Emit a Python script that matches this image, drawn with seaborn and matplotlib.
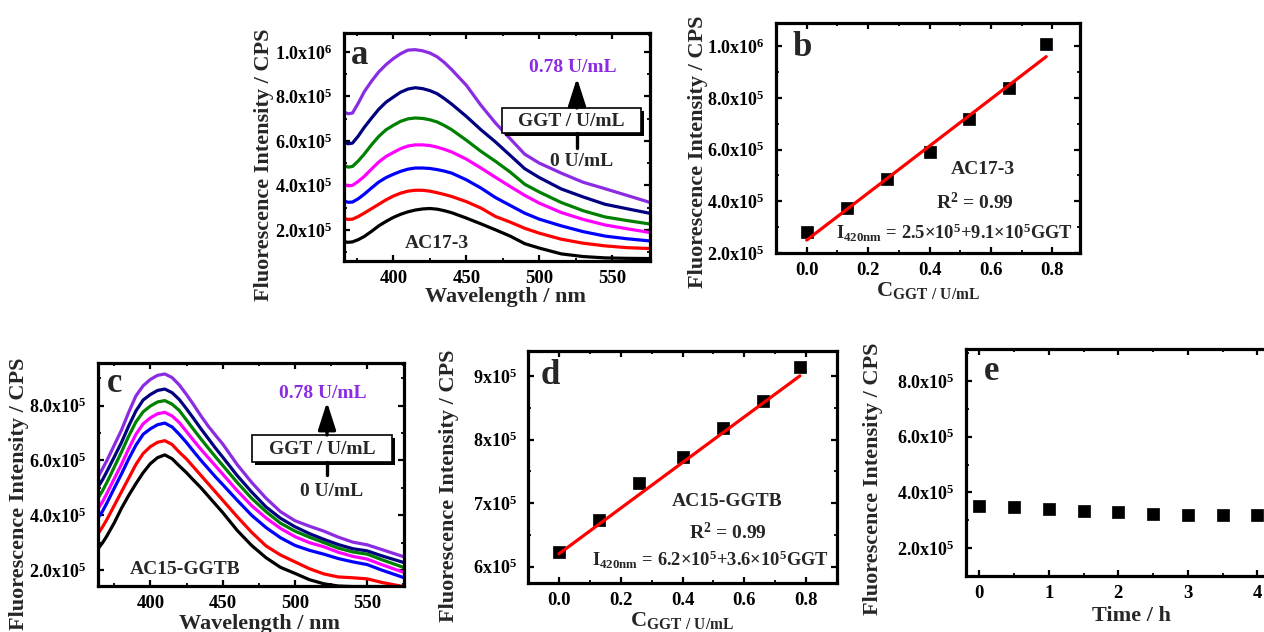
import numpy as np
import pandas as pd
import matplotlib
matplotlib.use("Agg")
import matplotlib.pyplot as plt
import seaborn as sns
from matplotlib.patches import Rectangle, FancyArrowPatch
from matplotlib.lines import Line2D
from matplotlib.ticker import MultipleLocator

# ---------------- data ----------------
conc_levels = [0, 0.13, 0.26, 0.40, 0.53, 0.66, 0.78]
curve_colors = ["#000000", "#FF0000", "#0000FF", "#FF00FF", "#008000", "#000080", "#8B2BE2"]

# (a) AC17-3 emission spectra
wl_a = [366, 369, 372, 376, 380, 385, 390, 395, 400, 405, 410, 415, 420, 425, 430, 435, 440,
        450, 460, 470, 480, 490, 500, 515, 530, 545, 560, 576]
a_000 = [1.47e5, 1.44e5, 1.46e5, 1.56e5, 1.70e5, 1.93e5, 2.18e5, 2.38e5, 2.56e5, 2.70e5, 2.81e5, 2.89e5, 2.94e5, 2.96e5, 2.93e5, 2.86e5, 2.77e5,
         2.53e5, 2.27e5, 2.00e5, 1.72e5, 1.38e5, 1.18e5, 0.92e5, 0.80e5, 0.74e5, 0.72e5, 0.71e5]
a_013 = [2.52e5, 2.47e5, 2.48e5, 2.60e5, 2.75e5, 2.95e5, 3.15e5, 3.35e5, 3.52e5, 3.65e5, 3.74e5, 3.78e5, 3.78e5, 3.74e5, 3.67e5, 3.59e5, 3.50e5,
         3.27e5, 2.98e5, 2.60e5, 2.35e5, 2.07e5, 1.85e5, 1.58e5, 1.40e5, 1.28e5, 1.20e5, 1.16e5]
a_026 = [3.30e5, 3.24e5, 3.25e5, 3.40e5, 3.60e5, 3.88e5, 4.15e5, 4.35e5, 4.50e5, 4.63e5, 4.73e5, 4.78e5, 4.78e5, 4.76e5, 4.71e5, 4.64e5, 4.55e5,
         4.25e5, 3.88e5, 3.45e5, 3.10e5, 2.75e5, 2.48e5, 2.18e5, 1.92e5, 1.72e5, 1.60e5, 1.50e5]
a_040 = [4.05e5, 3.98e5, 4.00e5, 4.18e5, 4.40e5, 4.73e5, 5.05e5, 5.30e5, 5.48e5, 5.65e5, 5.77e5, 5.82e5, 5.82e5, 5.79e5, 5.72e5, 5.62e5, 5.50e5,
         5.18e5, 4.78e5, 4.36e5, 3.95e5, 3.55e5, 3.20e5, 2.78e5, 2.47e5, 2.22e5, 2.05e5, 1.88e5]
a_053 = [4.90e5, 4.82e5, 4.85e5, 5.10e5, 5.40e5, 5.82e5, 6.20e5, 6.50e5, 6.70e5, 6.88e5, 6.99e5, 7.03e5, 7.01e5, 6.95e5, 6.85e5, 6.69e5, 6.50e5,
         6.03e5, 5.53e5, 5.08e5, 4.60e5, 4.05e5, 3.70e5, 3.23e5, 2.86e5, 2.58e5, 2.42e5, 2.26e5]
a_066 = [5.95e5, 5.87e5, 5.90e5, 6.22e5, 6.60e5, 7.02e5, 7.42e5, 7.74e5, 7.97e5, 8.19e5, 8.33e5, 8.39e5, 8.35e5, 8.26e5, 8.12e5, 7.90e5, 7.65e5,
         7.10e5, 6.50e5, 5.95e5, 5.35e5, 4.75e5, 4.35e5, 3.84e5, 3.48e5, 3.15e5, 2.95e5, 2.74e5]
a_078 = [7.30e5, 7.22e5, 7.25e5, 7.70e5, 8.20e5, 8.68e5, 9.10e5, 9.43e5, 9.70e5, 9.92e5, 1.008e6, 1.010e6, 1.005e6, 9.95e5, 9.78e5, 9.52e5, 9.20e5,
         8.50e5, 7.60e5, 6.80e5, 6.10e5, 5.40e5, 5.00e5, 4.55e5, 4.14e5, 3.85e5, 3.55e5, 3.23e5]

# (c) AC15-GGTB emission spectra
wl_c = [364, 367, 370, 375, 380, 385, 390, 395, 400, 405, 410, 415, 420, 425, 430, 435, 440, 445, 450,
        460, 470, 480, 490, 500, 510, 520, 530, 540, 550, 560, 575]
c_000 = [2.79e5, 3.00e5, 3.25e5, 3.72e5, 4.25e5, 4.72e5, 5.15e5, 5.55e5, 5.88e5, 6.10e5, 6.20e5, 6.06e5, 5.80e5, 5.55e5, 5.27e5, 5.00e5, 4.70e5, 4.40e5, 4.10e5,
         3.45e5, 2.90e5, 2.45e5, 2.10e5, 1.88e5, 1.65e5, 1.50e5, 1.42e5, 1.40e5, 1.40e5, 1.40e5, 1.40e5]
c_013 = [3.34e5, 3.58e5, 3.85e5, 4.35e5, 4.85e5, 5.35e5, 5.85e5, 6.25e5, 6.50e5, 6.66e5, 6.72e5, 6.58e5, 6.30e5, 6.05e5, 5.75e5, 5.45e5, 5.15e5, 4.85e5, 4.55e5,
         3.95e5, 3.38e5, 2.88e5, 2.55e5, 2.30e5, 2.05e5, 1.86e5, 1.75e5, 1.72e5, 1.68e5, 1.55e5, 1.40e5]
c_026 = [3.91e5, 4.15e5, 4.45e5, 4.98e5, 5.50e5, 6.05e5, 6.55e5, 6.95e5, 7.15e5, 7.30e5, 7.36e5, 7.22e5, 6.95e5, 6.65e5, 6.32e5, 6.00e5, 5.70e5, 5.40e5, 5.12e5,
         4.55e5, 4.00e5, 3.55e5, 3.18e5, 2.90e5, 2.72e5, 2.58e5, 2.42e5, 2.30e5, 2.20e5, 2.00e5, 1.73e5]
c_040 = [4.25e5, 4.50e5, 4.80e5, 5.33e5, 5.85e5, 6.42e5, 6.95e5, 7.33e5, 7.55e5, 7.70e5, 7.75e5, 7.62e5, 7.38e5, 7.05e5, 6.72e5, 6.40e5, 6.10e5, 5.80e5, 5.50e5,
         4.90e5, 4.35e5, 3.90e5, 3.52e5, 3.22e5, 3.00e5, 2.85e5, 2.65e5, 2.50e5, 2.40e5, 2.20e5, 1.92e5]
c_053 = [4.64e5, 4.90e5, 5.20e5, 5.75e5, 6.30e5, 6.88e5, 7.40e5, 7.77e5, 7.98e5, 8.13e5, 8.18e5, 8.05e5, 7.82e5, 7.47e5, 7.12e5, 6.78e5, 6.45e5, 6.13e5, 5.82e5,
         5.20e5, 4.62e5, 4.13e5, 3.71e5, 3.42e5, 3.20e5, 3.00e5, 2.80e5, 2.66e5, 2.58e5, 2.38e5, 2.10e5]
c_066 = [5.04e5, 5.30e5, 5.60e5, 6.12e5, 6.65e5, 7.25e5, 7.80e5, 8.20e5, 8.40e5, 8.55e5, 8.60e5, 8.47e5, 8.22e5, 7.88e5, 7.52e5, 7.15e5, 6.80e5, 6.45e5, 6.12e5,
         5.45e5, 4.85e5, 4.30e5, 3.89e5, 3.58e5, 3.33e5, 3.12e5, 2.93e5, 2.78e5, 2.70e5, 2.52e5, 2.28e5]
c_078 = [5.41e5, 5.70e5, 6.00e5, 6.55e5, 7.10e5, 7.75e5, 8.35e5, 8.72e5, 8.95e5, 9.10e5, 9.15e5, 9.02e5, 8.75e5, 8.40e5, 8.02e5, 7.62e5, 7.25e5, 6.92e5, 6.60e5,
         5.85e5, 5.20e5, 4.62e5, 4.13e5, 3.80e5, 3.60e5, 3.42e5, 3.20e5, 3.02e5, 2.92e5, 2.75e5, 2.49e5]

# (b) AC17-3 intensity at 420 nm vs GGT
b_intensity = [2.80e5, 3.76e5, 4.86e5, 5.91e5, 7.20e5, 8.40e5, 1.01e6]
b_intercept, b_slope = 2.5e5, 9.1e5

# (d) AC15-GGTB intensity at 420 nm vs GGT
d_intensity = [6.23e5, 6.73e5, 7.31e5, 7.73e5, 8.19e5, 8.61e5, 9.15e5]
d_intercept, d_slope = 6.2e5, 3.6e5

# (e) stability over time
e_time = [0, 0.5, 1, 1.5, 2, 2.5, 3, 3.5, 4]
e_intensity = [3.52e5, 3.48e5, 3.40e5, 3.34e5, 3.28e5, 3.24e5, 3.20e5, 3.18e5, 3.18e5]

# tick values / labels
wl_ticks = [400, 450, 500, 550]
conc_ticks = [0.0, 0.2, 0.4, 0.6, 0.8]
conc_ticklabels = ["0.0", "0.2", "0.4", "0.6", "0.8"]
int_ticks_a = [2e5, 4e5, 6e5, 8e5, 1e6]
int_labels_a = [r"2.0x10$^5$", r"4.0x10$^5$", r"6.0x10$^5$", r"8.0x10$^5$", r"1.0x10$^6$"]
int_ticks_c = [2e5, 4e5, 6e5, 8e5]
int_labels_c = [r"2.0x10$^5$", r"4.0x10$^5$", r"6.0x10$^5$", r"8.0x10$^5$"]
int_ticks_d = [6e5, 7e5, 8e5, 9e5]
int_labels_d = [r"6x10$^5$", r"7x10$^5$", r"8x10$^5$", r"9x10$^5$"]
time_ticks = [0, 1, 2, 3, 4]

# ---------------- style ----------------
sns.set_theme(style="ticks")
plt.rcParams.update({
    "font.family": ["Liberation Serif", "DejaVu Serif"],
    "font.weight": "bold",
    "axes.labelweight": "bold",
    "mathtext.fontset": "custom",
    "mathtext.rm": "Liberation Serif:bold",
    "mathtext.it": "Liberation Serif:bold",
    "mathtext.bf": "Liberation Serif:bold",
    "xtick.direction": "in",
    "ytick.direction": "in",
    "xtick.top": True,
    "ytick.right": True,
    "xtick.major.size": 4.5,
    "ytick.major.size": 4.5,
    "xtick.minor.size": 2.5,
    "ytick.minor.size": 2.5,
    "xtick.major.width": 1.6,
    "ytick.major.width": 1.6,
    "xtick.minor.width": 1.3,
    "ytick.minor.width": 1.3,
    "xtick.major.pad": 6.5,
    "ytick.major.pad": 8,
    "xtick.labelsize": 13.5,
    "ytick.labelsize": 13,
    "axes.labelsize": 16,
    "axes.linewidth": 2.3,
    "axes.edgecolor": "black",
    "xtick.color": "black",
    "ytick.color": "black",
})

W, H = 1264, 632
fig = plt.figure(figsize=(W / 100, H / 100), dpi=100)


def panel(left, top, right, bottom):
    return fig.add_axes([left / W, 1 - bottom / H, (right - left) / W, (bottom - top) / H])


def ftext(x, y, s, **kw):
    kw.setdefault("ha", "center")
    kw.setdefault("va", "center")
    kw.setdefault("fontweight", "bold")
    fig.text(x / W, 1 - y / H, s, **kw)


def ggt_marker(cx, box_l, box_r, box_t, box_b, tip_y, stem_y, top_y, bottom_y):
    # labelled box with drop shadow and an arrow pointing to increasing GGT
    shadow = Rectangle(((box_l + 3) / W, 1 - (box_b + 3) / H), (box_r - box_l) / W, (box_b - box_t) / H,
                       transform=fig.transFigure, fc="black", ec="black", lw=0)
    box = Rectangle((box_l / W, 1 - box_b / H), (box_r - box_l) / W, (box_b - box_t) / H,
                    transform=fig.transFigure, fc="white", ec="black", lw=1.2)
    fig.add_artist(shadow)
    fig.add_artist(box)
    ftext((box_l + box_r) / 2, (box_t + box_b) / 2 + 1, "GGT / U/mL", fontsize=14)
    fig.add_artist(FancyArrowPatch(
        (cx / W, 1 - box_t / H), (cx / W, 1 - tip_y / H), transform=fig.transFigure,
        arrowstyle="-|>,head_length=1.4,head_width=0.45", mutation_scale=12, lw=2.4, color="black",
        shrinkA=0, shrinkB=0))
    fig.add_artist(Line2D([cx / W, cx / W], [1 - box_b / H, 1 - stem_y / H],
                          transform=fig.transFigure, lw=2.4, color="black"))
    ftext(cx - 4, top_y, "0.78 U/mL", fontsize=14, color="#8B2BE2")
    ftext(cx + 5, bottom_y, "0 U/mL", fontsize=14)


def spectra_frame(wl, curves):
    rows = []
    for conc, vals in zip(conc_levels, curves):
        for w, v in zip(wl, vals):
            rows.append({"wavelength": w, "intensity": v, "conc": conc})
    return pd.DataFrame(rows)


def labels(ax, xlabel, ylabel, xpos, ypos):
    ax.set_xlabel(xlabel)
    ax.set_ylabel(ylabel)
    ax.xaxis.set_label_coords(*xpos)
    ax.yaxis.set_label_coords(*ypos)


# ---------------- (a) ----------------
ax_a = panel(344, 33, 650, 261)
df_a = spectra_frame(wl_a, [a_000, a_013, a_026, a_040, a_053, a_066, a_078])
sns.lineplot(data=df_a, x="wavelength", y="intensity", hue="conc", palette=curve_colors,
             linewidth=2.3, legend=False, ax=ax_a, sort=False, solid_joinstyle="round")
ax_a.set_xlim(366.2, 575.8)
ax_a.set_ylim(0.6e5, 1.085e6)
ax_a.set_xticks(wl_ticks)
ax_a.xaxis.set_minor_locator(MultipleLocator(25))
ax_a.set_yticks(int_ticks_a, int_labels_a)
ax_a.yaxis.set_minor_locator(MultipleLocator(1e5))
labels(ax_a, "Wavelength / nm", "Fluorescence Intensity / CPS", (0.529, -0.112), (-0.228, 0.421))
ftext(360, 56, "a", fontsize=25)
ftext(437, 243, "AC17-3", fontsize=14)
ggt_marker(577, 502, 641, 108, 133, 78, 148, 68, 162)

# ---------------- (b) ----------------
ax_b = panel(776, 23, 1080, 253)
sns.scatterplot(x=conc_levels, y=b_intensity, marker="s", s=75, color="black", edgecolor="black",
                linewidth=0.5, ax=ax_b, zorder=3)
b_fit_x = [conc_levels[0], conc_levels[-1]]
b_fit_y = [b_intercept + b_slope * x for x in b_fit_x]
sns.lineplot(x=b_fit_x, y=b_fit_y, color="#FF0000", linewidth=2.3, ax=ax_b, zorder=4)
ax_b.set_xlim(-0.1, 0.89)
ax_b.set_ylim(2e5, 1.09e6)
ax_b.set_xticks(conc_ticks, conc_ticklabels)
ax_b.xaxis.set_minor_locator(MultipleLocator(0.1))
ax_b.set_yticks(int_ticks_a, int_labels_a)
ax_b.yaxis.set_minor_locator(MultipleLocator(1e5))
labels(ax_b, r"C$_{\mathrm{GGT\ /\ U/mL}}$", "Fluorescence Intensity / CPS", (0.5, -0.117), (-0.225, 0.441))
ftext(802, 47, "b", fontsize=25)
ftext(983, 170, "AC17-3", fontsize=14)
ftext(975, 203, r"R$^2$ = 0.99", fontsize=14)
ftext(954, 233, r"I$_{\mathrm{420nm}}$ = 2.5×10$^5$+9.1×10$^5$GGT", fontsize=13.3)

# ---------------- (c) ----------------
ax_c = panel(98, 363, 404, 586)
df_c = spectra_frame(wl_c, [c_000, c_013, c_026, c_040, c_053, c_066, c_078])
sns.lineplot(data=df_c, x="wavelength", y="intensity", hue="conc", palette=curve_colors,
             linewidth=2.3, legend=False, ax=ax_c, sort=False, solid_joinstyle="round")
ax_c.set_xlim(363.8, 575.4)
ax_c.set_ylim(1.42e5, 9.55e5)
ax_c.set_xticks(wl_ticks)
ax_c.xaxis.set_minor_locator(MultipleLocator(25))
ax_c.set_yticks(int_ticks_c, int_labels_c)
ax_c.yaxis.set_minor_locator(MultipleLocator(1e5))
labels(ax_c, "Wavelength / nm", "Fluorescence Intensity / CPS", (0.529, -0.125), (-0.226, 0.413))
ftext(115, 383, "c", fontsize=25)
ftext(185, 570, "AC15-GGTB", fontsize=14)
ggt_marker(327, 252, 392, 435, 462, 402, 475, 393, 492)

# ---------------- (d) ----------------
ax_d = panel(528, 351, 837, 583)
sns.scatterplot(x=conc_levels, y=d_intensity, marker="s", s=75, color="black", edgecolor="black",
                linewidth=0.5, ax=ax_d, zorder=3)
d_fit_x = [conc_levels[0], conc_levels[-1]]
d_fit_y = [d_intercept + d_slope * x for x in d_fit_x]
sns.lineplot(x=d_fit_x, y=d_fit_y, color="#FF0000", linewidth=2.3, ax=ax_d, zorder=4)
ax_d.set_xlim(-0.1, 0.9)
ax_d.set_ylim(5.74e5, 9.4e5)
ax_d.set_xticks(conc_ticks, conc_ticklabels)
ax_d.xaxis.set_minor_locator(MultipleLocator(0.1))
ax_d.set_yticks(int_ticks_d, int_labels_d)
ax_d.yaxis.set_minor_locator(MultipleLocator(0.5e5))
labels(ax_d, r"C$_{\mathrm{GGT\ /\ U/mL}}$", "Fluorescence Intensity / CPS", (0.5, -0.115), (-0.222, 0.419))
ftext(550, 375, "d", fontsize=25)
ftext(727, 502, "AC15-GGTB", fontsize=14)
ftext(728, 533, r"R$^2$ = 0.99", fontsize=14)
ftext(710, 560, r"I$_{\mathrm{420nm}}$ = 6.2×10$^5$+3.6×10$^5$GGT", fontsize=13.3)

# ---------------- (e) ----------------
ax_e = panel(966, 349, 1297, 576)
sns.scatterplot(x=e_time, y=e_intensity, marker="s", s=75, color="black", edgecolor="black",
                linewidth=0.5, ax=ax_e, zorder=3)
ax_e.set_xlim(-0.19, 4.57)
ax_e.set_ylim(1e5, 9.15e5)
ax_e.set_xticks(time_ticks)
ax_e.xaxis.set_minor_locator(MultipleLocator(0.5))
ax_e.set_yticks(int_ticks_c, int_labels_c)
ax_e.yaxis.set_minor_locator(MultipleLocator(1e5))
labels(ax_e, "Time / h", "Fluorescence Intensity / CPS", (0.5, -0.13), (-0.25, 0.427))
ftext(992, 372, "e", fontsize=25)

for ax in (ax_a, ax_b, ax_c, ax_d, ax_e):
    ax.tick_params(which="both", top=True, right=True)
    for lab in ax.get_xticklabels() + ax.get_yticklabels():
        lab.set_fontweight("bold")
    ax.set_facecolor("white")

fig.savefig("out.png", dpi=100, facecolor="white")
